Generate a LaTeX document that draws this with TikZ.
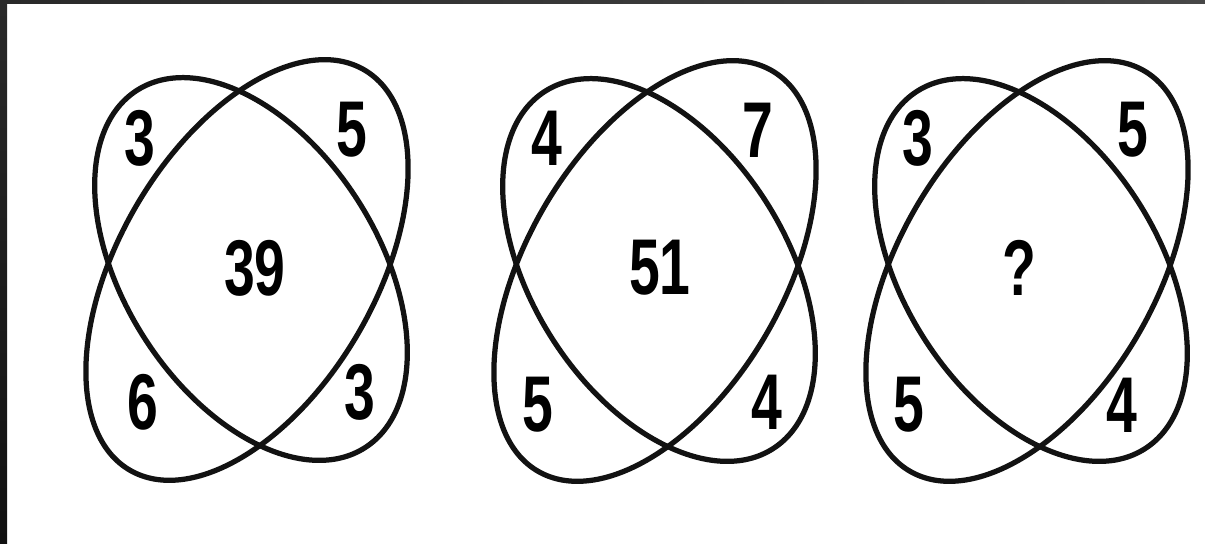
\documentclass[tikz,border=0pt]{standalone}
\usepackage{fontspec}
\setmainfont{Liberation Sans}
\usepackage{graphicx}
\usepackage{tikz}

\definecolor{frametop}{HTML}{292929}
\definecolor{frameright}{HTML}{474747}
\definecolor{framelow}{HTML}{111111}
\newcommand{\narrow}[1]{\scalebox{0.7}[1]{#1}}

\tikzset{
  ring/.style={line width=0.105cm, black!93},
  num/.style={font=\fontsize{45}{50}\selectfont\bfseries, inner sep=0pt},
}

\begin{document}
\begin{tikzpicture}[x=0.02cm,y=0.02cm]
\useasboundingbox (0,0) rectangle (1205,544);
% dark frame of the screenshot
\fill[white] (0,0) rectangle (1205,544);
\shade[left color=frametop, right color=frameright] (0,540) rectangle (1205,544);
\shade[top color=frametop, bottom color=framelow] (0,0) rectangle (7,540);

% first figure
\begin{scope}[shift={(249,275)}]
\coordinate (c1) at (0,0);
\draw[ring, shift={(2,0)}, rotate=-57.5] (0,0) ellipse (4.24cm and 2.54cm);
\draw[ring, shift={(-2,-1)}, rotate=59.6] (0,0) ellipse (4.64cm and 2.56cm);
\node[num] (tl1) at (-109,131) {\narrow{3}};
\node[num] (tr1) at (103,139) {\narrow{5}};
\node[num] (mid1) at (6,1) {\narrow{39}};
\node[num] (bl1) at (-106,-133) {\narrow{6}};
\node[num] (br1) at (111,-123) {\narrow{3}};
\end{scope}

% second figure
\begin{scope}[shift={(657,274)}]
\coordinate (c2) at (0,0);
\draw[ring, shift={(2,0)}, rotate=-57.5] (0,0) ellipse (4.24cm and 2.54cm);
\draw[ring, shift={(-2,-1)}, rotate=59.6] (0,0) ellipse (4.64cm and 2.56cm);
\node[num] (tl2) at (-110,132) {\narrow{4}};
\node[num] (tr2) at (101,140) {\narrow{7}};
\node[num] (mid2) at (3,2) {\narrow{51}};
\node[num] (bl2) at (-119,-135) {\narrow{5}};
\node[num] (br2) at (110,-132) {\narrow{4}};
\end{scope}

% third figure
\begin{scope}[shift={(1029,274)}]
\coordinate (c3) at (0,0);
\draw[ring, shift={(2,0)}, rotate=-57.5] (0,0) ellipse (4.24cm and 2.54cm);
\draw[ring, shift={(-2,-1)}, rotate=59.6] (0,0) ellipse (4.64cm and 2.56cm);
\node[num] (tl3) at (-111,132) {\narrow{3}};
\node[num] (tr3) at (104,140) {\narrow{5}};
\node[num] (mid3) at (-10,2) {\narrow{?}};
\node[num] (bl3) at (-120,-135) {\narrow{5}};
\node[num] (br3) at (93,-135) {\narrow{4}};
\end{scope}
\end{tikzpicture}
\end{document}
